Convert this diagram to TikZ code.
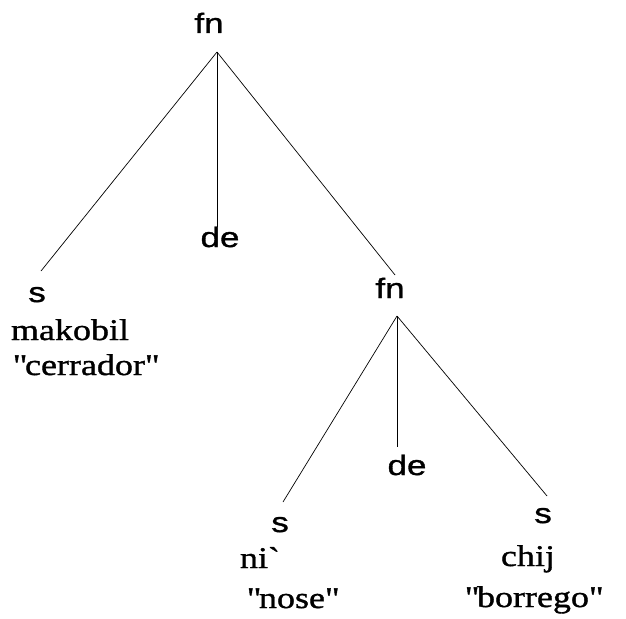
\documentclass[tikz,border=0pt]{standalone}
\usepackage{fontspec}
\setmainfont{Liberation Serif}[FakeStretch=1.2,FakeBold=1.2]
\newfontfamily\catfont{Liberation Sans}[FakeStretch=1.25,FakeBold=1.2]

\begin{document}
\begin{tikzpicture}[x=1pt,y=-1pt]

\useasboundingbox (0,0) rectangle (626,618);

\tikzset{CatLabel/.style={font=\catfont\fontsize{28}{28}\selectfont},
         WordLabel/.style={font=\fontsize{30}{30}\selectfont}}

\begin{scope}[every node/.style={inner sep=0pt,anchor=base}]
    % Categories
    \node (A) at (209,33) [CatLabel] {fn};
    \node (B) at (37,302) [CatLabel] {s};
    \node (C) at (220,247) [CatLabel] {de};
    \node (D) at (390,298) [CatLabel] {fn};
    \node (E) at (280,532) [CatLabel] {s};
    \node (F) at (407,475) [CatLabel] {de};
    \node (G) at (543,523) [CatLabel] {s};

    % Words and glosses
    \node (B1) at (70,340) [WordLabel] {makobil};
    \node (B2) at (85,375) [WordLabel] {\textquotedbl cerrador\textquotedbl};
    \node (E1) at (259,568) [WordLabel] {ni\textasciigrave};
    \node (E2) at (292,608) [WordLabel] {\textquotedbl nose\textquotedbl};
    \node (G1) at (528,566) [WordLabel] {chij};
    \node (G2) at (533,607) [WordLabel] {\textquotedbl borrego\textquotedbl};
\end{scope}

% Branch points
\coordinate (A-foot) at (217,52);
\coordinate (B-top) at (41,271);
\coordinate (C-top) at (217,227);
\coordinate (D-top) at (395,275);
\coordinate (D-foot) at (397,316);
\coordinate (E-top) at (283,502);
\coordinate (F-top) at (397,447);
\coordinate (G-top) at (547,496);

\begin{scope}[line width=0.7pt]
    \draw (A-foot) -- (B-top);
    \draw (A-foot) -- (C-top);
    \draw (A-foot) -- (D-top);

    \draw (D-foot) -- (E-top);
    \draw (D-foot) -- (F-top);
    \draw (D-foot) -- (G-top);
\end{scope}

\end{tikzpicture}
\end{document}
